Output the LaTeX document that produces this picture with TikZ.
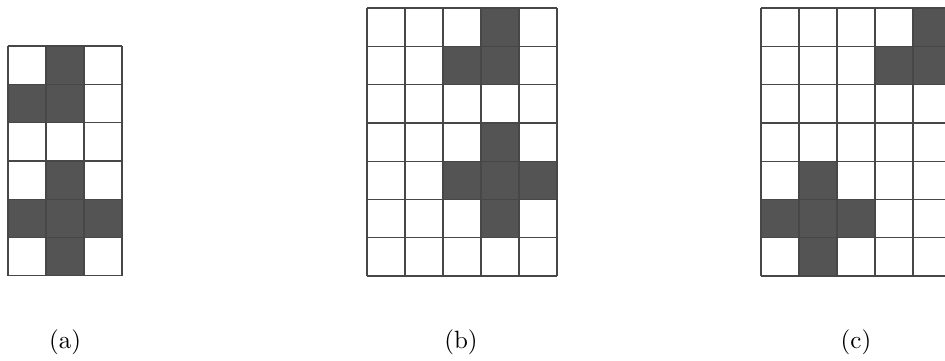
\documentclass[tikz,border=0pt]{standalone}
\usepackage{tikz}
\newcommand{\cellw}{38}
\newcommand{\cellh}{38.3}
\tikzset{
  cell/.style={fill=black!67},
  gridline/.style={draw=black!72, line width=0.55pt},
  caption/.style={font=\normalsize, anchor=center}
}
\begin{document}
\begin{tikzpicture}[x=0.4pt, y=-0.4pt]
  \useasboundingbox (0,0) rectangle (945,360);
  \clip (0,0) rectangle (945,360);

  % (a): 3 x 6 board
  \foreach \c/\r in {1/0,0/1,1/1,1/3,0/4,1/4,2/4,1/5}
    \fill[cell] ({8+\cellw*\c},{46+\cellh*\r}) rectangle ++(\cellw,\cellh);
  \foreach \c in {0,...,3}
    \draw[gridline] ({8+\cellw*\c},46) -- ++(0,{6*\cellh});
  \foreach \r in {0,...,6}
    \draw[gridline] (8,{46+\cellh*\r}) -- ++({3*\cellw},0);
  \node[caption] (labela) at (65,342) {(a)};

  % (b): 5 x 7 board
  \foreach \c/\r in {3/0,2/1,3/1,3/3,2/4,3/4,4/4,3/5}
    \fill[cell] ({367+\cellw*\c},{8+\cellh*\r}) rectangle ++(\cellw,\cellh);
  \foreach \c in {0,...,5}
    \draw[gridline] ({367+\cellw*\c},8) -- ++(0,{7*\cellh});
  \foreach \r in {0,...,7}
    \draw[gridline] (367,{8+\cellh*\r}) -- ++({5*\cellw},0);
  \node[caption] (labelb) at (461,342) {(b)};

  % (c): 5 x 7 board, cut at the right edge
  \foreach \c/\r in {4/0,3/1,4/1,1/4,0/5,1/5,2/5,1/6}
    \fill[cell] ({761+\cellw*\c},{8+\cellh*\r}) rectangle ++(\cellw,\cellh);
  \foreach \c in {0,...,5}
    \draw[gridline] ({761+\cellw*\c},8) -- ++(0,{7*\cellh});
  \foreach \r in {0,...,7}
    \draw[gridline] (761,{8+\cellh*\r}) -- ++({5*\cellw},0);
  \node[caption] (labelc) at (856,342) {(c)};
\end{tikzpicture}
\end{document}
